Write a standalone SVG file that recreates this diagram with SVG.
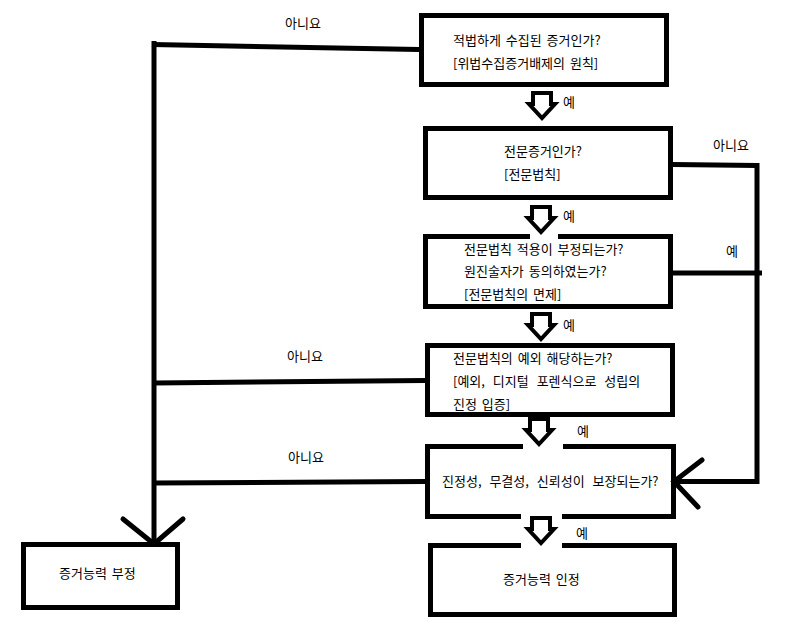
<svg xmlns="http://www.w3.org/2000/svg" xmlns:xlink="http://www.w3.org/1999/xlink" width="787" height="625" viewBox="0 0 787 625">
<style>
.box{fill:none;stroke:#000;stroke-width:5}
.ln{fill:none;stroke:#000;stroke-width:5;stroke-linecap:butt}
.hd{fill:none;stroke:#000;stroke-width:5;stroke-linecap:round}
.t{font-family:"Noto Sans CJK KR","Noto Sans",sans-serif;font-size:13px;fill:#000;word-spacing:2px}
.w{word-spacing:5px}
.gap{fill:#fff}
</style>
<defs>
<path id="dn" d="M-9,2 L9,2 L9,13 L13,13 L0,27 L-13,13 L-9,13 Z" fill="#fff" stroke="#000" stroke-width="4" stroke-linejoin="miter" stroke-miterlimit="10"/>
</defs>
<rect width="787" height="625" fill="#fff"/>

<g id="n1">
<rect class="box" x="421.5" y="15.5" width="245" height="69"/>
<text class="t" x="453" y="45">적법하게 수집된 증거인가?</text>
<text class="t" x="453" y="68">[위법수집증거배제의 원칙]</text>
</g>
<g id="n2">
<rect class="box" x="425.5" y="128.5" width="245" height="69"/>
<text class="t" x="504" y="156">전문증거인가?</text>
<text class="t" x="504" y="179">[전문법칙]</text>
</g>
<g id="n3">
<rect class="box" x="425.5" y="236.5" width="245" height="70"/>
<text class="t" x="464" y="254">전문법칙 적용이 부정되는가?</text>
<text class="t" x="464" y="276">원진술자가 동의하였는가?</text>
<text class="t" x="464" y="299">[전문법칙의 면제]</text>
</g>
<g id="n4">
<rect class="box" x="427.5" y="345.5" width="245" height="69"/>
<text class="t" x="453" y="363">전문법칙의 예외 해당하는가?</text>
<text class="t w" x="453" y="386">[예외, 디지털 포렌식으로 성립의</text>
<text class="t" x="453" y="409">진정 입증]</text>
</g>
<g id="n5">
<rect class="box" x="427.5" y="446.5" width="246" height="70"/>
<text class="t w" x="442" y="486">진정성, 무결성, 신뢰성이 보장되는가?</text>
</g>
<g id="n6">
<rect class="box" x="430.5" y="545.5" width="244" height="69"/>
<text class="t" x="503" y="584">증거능력 인정</text>
</g>
<g id="n7">
<rect class="box" x="23.5" y="544.5" width="154" height="63"/>
<text class="t" x="59" y="578">증거능력 부정</text>
</g>

<g id="connectors">
<rect class="gap" x="530" y="232" width="28" height="7"/>
<rect class="gap" x="523" y="442" width="40" height="7"/>
<rect class="gap" x="521" y="514" width="41" height="7"/>
<rect class="gap" x="521" y="541" width="41" height="7"/>

<use xlink:href="#dn" href="#dn" transform="translate(542,91)"/>
<use xlink:href="#dn" href="#dn" transform="translate(541,205)"/>
<use xlink:href="#dn" href="#dn" transform="translate(541,312)"/>
<use xlink:href="#dn" href="#dn" transform="translate(539,417)"/>
<use xlink:href="#dn" href="#dn" transform="translate(541,516)"/>

<text class="t" x="563" y="107">예</text>
<text class="t" x="563" y="221">예</text>
<text class="t" x="563" y="330">예</text>
<text class="t" x="577" y="436">예</text>
<text class="t" x="576" y="538">예</text>

<path class="ln" d="M154,41 V545"/>
<path class="ln" d="M152,44.5 L419,49.5"/>
<path class="ln" d="M154,383 L425,380.5"/>
<path class="ln" d="M154,483 L425,481.5"/>
<path class="hd" d="M123,519 L154,544 L183,519"/>
<text class="t" x="285" y="28">아니요</text>
<text class="t" x="287" y="361">아니요</text>
<text class="t" x="288" y="462">아니요</text>

<path class="ln" d="M673,164.5 L757,165.5"/>
<path class="ln" d="M673,273 L762,273"/>
<path class="ln" d="M757,163 V481.5 H673"/>
<path class="hd" d="M702,460 L674,481.5 L698,507"/>
<text class="t" x="713" y="150">아니요</text>
<text class="t" x="726" y="256">예</text>
</g>
</svg>
